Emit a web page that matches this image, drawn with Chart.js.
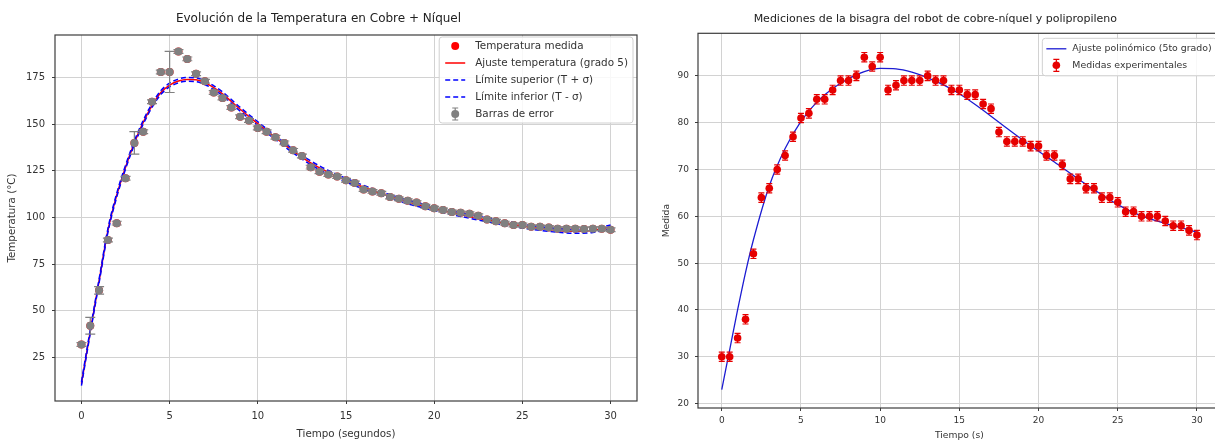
<!DOCTYPE html>
<html lang="es">
<head>
<meta charset="utf-8">
<title>Cobre + Níquel</title>
<script src="https://cdn.jsdelivr.net/npm/chart.js@4.4.1/dist/chart.umd.min.js"></script>
<style>
  html,body{margin:0;padding:0;background:#fff;}
  body{width:1215px;height:441px;overflow:hidden;position:relative;}
  #izq{position:absolute;left:0;top:0;}
  #der{position:absolute;left:650px;top:0;}
</style>
</head>
<body>
<canvas id="izq" width="660" height="441"></canvas>
<canvas id="der" width="600" height="441"></canvas>
<script>
// --- datos grafico izquierdo (temperatura) ---
const tiempo=[0,0.5,1,1.5,2,2.5,3,3.5,4,4.5,5,5.5,6,6.5,7,7.5,8,8.5,9,9.5,10,10.5,11,11.5,12,12.5,13,13.5,14,14.5,
  15,15.5,16,16.5,17,17.5,18,18.5,19,19.5,20,20.5,21,21.5,22,22.5,23,23.5,24,24.5,25,25.5,26,26.5,27,27.5,28,28.5,29,29.5,30];
const tempMedida=[32,42,61,88,97,121,140,146,162,178,178,189,185,177,173,167,164,159,154,152,148,146,143,140,136,133,127,124.5,123,122,
  120,118.5,115,114,113,111,110,109,108,106,105,104,103,102.5,102,101,99,98,97,96,96,95,95,94.7,94,94,94,93.8,94,94,93.5];
const errTemp=[1,4.5,2,1,1,1,6,1,1,1,11,1,1,1,1,1,1,1,1,1,1,1,1,1,1,1,1,1,1,1,
  1,1,1,1,1,1,1,1,1,1,1,1,1,1,1,1,1,1,1,1,1,1,1,1,1,1,1,1,1,1,1];
const tAjuste=[0,0.5,1,1.5,2,2.5,3,3.5,4,4.5,5,5.5,6,6.5,7,7.5,8,9,10,11,12,13,14,15,16,17,18,19,20,21,22,23,24,25,26,27,28,29,30];
const ajusteTemp=[11,39,66,93,112,127,140,151,160,167,171,173.2,174,173.8,172.3,169.6,166.3,158,150.3,142.8,135.6,129.3,124.2,
  120,116.2,112.8,109.8,107.1,104.7,102.6,100.6,98.7,97,95.4,94.1,93.1,92.6,93,95];
const limSuperior=[12,40,67,94,113,128,141,152,161,168,172,174.2,175,174.8,173.3,170.6,167.3,159,151.3,143.8,136.6,130.3,125.2,
  121,117.2,113.8,110.8,108.1,105.7,103.6,101.6,99.7,98,96.4,95.1,94.1,93.6,94,96];
const limInferior=[10,38,65,92,111,126,139,150,159,166,170,172.2,173,172.8,171.3,168.6,165.3,157,149.3,141.8,134.6,128.3,123.2,
  119,115.2,111.8,108.8,106.1,103.7,101.6,99.6,97.7,96,94.4,93.1,92.1,91.6,92,94];
const ticksXIzq=[0,5,10,15,20,25,30];
const ticksYIzq=[25,50,75,100,125,150,175];

// --- datos grafico derecho (bisagra) ---
const medidas=[30,30,34,38,52,64,66,70,73,77,81,82,85,85,87,89,89,90,94,92,94,87,88,89,89,89,90,89,89,87,
  87,86,86,84,83,78,76,76,76,75,75,73,73,71,68,68,66,66,64,64,63,61,61,60,60,60,59,58,58,57,56];
const errorBisagra=1;
const tAjusteBisagra=[0,0.5,1,1.5,2,3,4,5,6,7,8,9,10,11,12,13,14,15,16,17,18,19,20,21,22,23,24,25,26,27,28,29,30];
const ajusteBisagra=[23,31.5,40,48,55,66.5,74.5,80.3,84.4,87.3,89.4,90.9,91.6,91.5,90.8,89.6,88.1,86.2,83.9,81.4,78.8,76.3,
  73.9,71.6,69.2,66.8,64.6,62.5,60.8,59.5,58.5,57.6,56.6];
const ticksXDer=[0,5,10,15,20,25,30];
const ticksYDer=[20,30,40,50,60,70,80,90];

const fam='"DejaVu Sans", sans-serif';
const pts=(xs,ys)=>xs.map((x,i)=>({x:x,y:ys[i]}));

// barras de error (debajo de los puntos)
const barrasError={
  id:'barrasError',
  beforeDatasetDraw(chart,args){
    const ds=chart.data.datasets[args.index];
    if(ds.errores===undefined) return;
    const ys=chart.scales.y, ctx=chart.ctx;
    ctx.save();
    ctx.strokeStyle=ds.colorError; ctx.lineWidth=ds.anchoError;
    args.meta.data.forEach((p,i)=>{
      const e=Array.isArray(ds.errores)?ds.errores[i]:ds.errores;
      const v=ds.data[i].y;
      const yA=ys.getPixelForValue(v+e), yB=ys.getPixelForValue(v-e);
      const c=ds.capa;
      ctx.beginPath();
      ctx.moveTo(p.x,yA); ctx.lineTo(p.x,yB);
      ctx.moveTo(p.x-c,yA); ctx.lineTo(p.x+c,yA);
      ctx.moveTo(p.x-c,yB); ctx.lineTo(p.x+c,yB);
      ctx.stroke();
    });
    ctx.restore();
  }
};

// marco del area
const marco={
  id:'marco',
  afterDatasetsDraw(chart){
    const {ctx,chartArea:a}=chart;
    ctx.save();
    ctx.strokeStyle='#3c3c3c'; ctx.lineWidth=1.2;
    ctx.strokeRect(a.left,a.top,a.right-a.left,a.bottom-a.top);
    ctx.restore();
  }
};

// leyenda dentro del area (estilo matplotlib)
const leyendaInterna={
  id:'leyendaInterna',
  afterDraw(chart,args,o){
    const {ctx,chartArea}=chart;
    const items=o.orden.map(i=>chart.data.datasets[i]);
    ctx.save();
    ctx.font=o.fuente+'px '+fam;
    const maxW=Math.max(...items.map(d=>ctx.measureText(d.label).width));
    const w=o.padIzq+o.manija+o.hueco+maxW+o.padDer;
    const h=o.padSup*2+o.fila*(items.length-1);
    const x0=chartArea.right-o.margen-w, y0=chartArea.top+o.margenSup;
    ctx.fillStyle='rgba(255,255,255,0.85)';
    ctx.strokeStyle='#d0d0d0'; ctx.lineWidth=1;
    ctx.beginPath(); ctx.roundRect(x0,y0,w,h,3); ctx.fill(); ctx.stroke();
    items.forEach((d,k)=>{
      const y=y0+o.padSup+k*o.fila;
      const hx=x0+o.padIzq, cx=hx+o.manija/2;
      if(d.manija==='linea'){
        ctx.strokeStyle=d.borderColor; ctx.lineWidth=d.borderWidth;
        ctx.setLineDash(d.borderDash||[]);
        ctx.beginPath(); ctx.moveTo(hx,y); ctx.lineTo(hx+o.manija,y); ctx.stroke();
        ctx.setLineDash([]);
      } else {
        if(d.manija==='barra'){
          ctx.strokeStyle=d.colorError; ctx.lineWidth=d.anchoError;
          ctx.beginPath();
          ctx.moveTo(cx,y-6); ctx.lineTo(cx,y+6);
          ctx.moveTo(cx-3,y-6); ctx.lineTo(cx+3,y-6);
          ctx.moveTo(cx-3,y+6); ctx.lineTo(cx+3,y+6);
          ctx.stroke();
        }
        ctx.fillStyle=d.pointBackgroundColor;
        ctx.beginPath(); ctx.arc(cx,y,d.pointRadius,0,Math.PI*2); ctx.fill();
      }
      ctx.fillStyle='#333'; ctx.textAlign='left'; ctx.textBaseline='middle';
      ctx.fillText(d.label,hx+o.manija+o.hueco,y);
    });
    ctx.restore();
  }
};

function ejes(c){
  const grid={color:'#d2d2d2',lineWidth:1,tickColor:'#3c3c3c',tickLength:3};
  return {
    x:{type:'linear',min:c.xMin,max:c.xMax,
      afterBuildTicks:ax=>{ax.ticks=c.tx.map(v=>({value:v}));},
      afterFit:ax=>{ax.height=c.altoX;},
      grid:grid,border:{display:false},
      ticks:{font:{family:fam,size:c.fTick},color:'#333',padding:c.padTX,maxRotation:0},
      title:{display:true,text:c.tituloX,font:{family:fam,size:c.fEje},color:'#333',padding:{top:c.padTitX,bottom:0}}},
    y:{type:'linear',min:c.yMin,max:c.yMax,
      afterBuildTicks:ax=>{ax.ticks=c.ty.map(v=>({value:v}));},
      afterFit:ax=>{ax.width=c.anchoY;},
      grid:grid,border:{display:false},
      ticks:{font:{family:fam,size:c.fTick},color:'#333',padding:c.padTY},
      title:{display:true,text:c.tituloY,font:{family:fam,size:c.fEje},color:'#333',padding:{top:c.padTitY,bottom:0}}}
  };
}

// grafico izquierdo
new Chart(document.getElementById('izq'),{
  type:'scatter',
  data:{datasets:[
    {label:'Temperatura medida',data:pts(tiempo,tempMedida),pointRadius:4,pointBackgroundColor:'red',
      pointBorderWidth:0,showLine:false,order:4,manija:'punto'},
    {label:'Ajuste temperatura (grado 5)',data:pts(tAjuste,ajusteTemp),showLine:true,borderColor:'red',borderWidth:1.5,
      pointRadius:0,cubicInterpolationMode:'monotone',order:3,manija:'linea'},
    {label:'Límite superior (T + σ)',data:pts(tAjuste,limSuperior),showLine:true,borderColor:'blue',borderWidth:1.5,
      borderDash:[5,3],pointRadius:0,cubicInterpolationMode:'monotone',order:2,manija:'linea'},
    {label:'Límite inferior (T - σ)',data:pts(tAjuste,limInferior),showLine:true,borderColor:'blue',borderWidth:1.5,
      borderDash:[5,3],pointRadius:0,cubicInterpolationMode:'monotone',order:1,manija:'linea'},
    {label:'Barras de error',data:pts(tiempo,tempMedida),pointRadius:4,pointBackgroundColor:'#808080',pointBorderWidth:0,
      showLine:false,order:0,manija:'barra',errores:errTemp,colorError:'#808080',anchoError:1.2,capa:5}
  ]},
  options:{
    responsive:false,animation:false,devicePixelRatio:1,
    layout:{padding:{left:0,right:23,top:0,bottom:0}},
    scales:ejes({xMin:-1.5,xMax:31.5,yMin:1.7,yMax:197.8,tx:ticksXIzq,ty:ticksYIzq,altoX:40,anchoY:55,
      fTick:10,fEje:10.3,padTX:6.7,padTY:7,padTitX:1.8,padTitY:5.8,
      tituloX:'Tiempo (segundos)',tituloY:'Temperatura (°C)'}),
    plugins:{
      legend:{display:false},tooltip:{enabled:false},
      title:{display:true,text:'Evolución de la Temperatura en Cobre + Níquel',color:'#222',
        font:{family:fam,size:12,weight:'normal'},padding:{top:12,bottom:8.6}},
      leyendaInterna:{orden:[0,1,2,3,4],fuente:10.4,padIzq:6,manija:20,hueco:10,padDer:5,padSup:9,fila:17,margen:4,margenSup:2}
    }
  },
  plugins:[barrasError,marco,leyendaInterna]
});

// grafico derecho
new Chart(document.getElementById('der'),{
  type:'scatter',
  data:{datasets:[
    {label:'Ajuste polinómico (5to grado)',data:pts(tAjusteBisagra,ajusteBisagra),showLine:true,borderColor:'#1c1cd2',
      borderWidth:1.3,pointRadius:0,cubicInterpolationMode:'monotone',order:1,manija:'linea'},
    {label:'Medidas experimentales',data:pts(tiempo,medidas),pointRadius:3.8,pointBackgroundColor:'#e60000',pointBorderWidth:0,
      showLine:false,order:0,manija:'barra',errores:errorBisagra,colorError:'#e60000',anchoError:1.2,capa:3}
  ]},
  options:{
    responsive:false,animation:false,devicePixelRatio:1,
    layout:{padding:{left:0,right:29.3,top:0,bottom:0}},
    scales:ejes({xMin:-1.5,xMax:31.5,yMin:19.06,yMax:99.1,tx:ticksXDer,ty:ticksYDer,altoX:33,anchoY:48,
      fTick:9,fEje:9.2,padTX:4.3,padTY:6,padTitX:0,padTitY:11.4,
      tituloX:'Tiempo (s)',tituloY:'Medida'}),
    plugins:{
      legend:{display:false},tooltip:{enabled:false},
      title:{display:true,text:'Mediciones de la bisagra del robot de cobre-níquel y polipropileno',color:'#222',
        font:{family:fam,size:11,weight:'normal'},padding:{top:13,bottom:7.1}},
      leyendaInterna:{orden:[0,1],fuente:9.4,padIzq:4,manija:20,hueco:6,padDer:5,padSup:10.5,fila:16.5,margen:4,margenSup:5}
    }
  },
  plugins:[barrasError,marco,leyendaInterna]
});
</script>
</body>
</html>
